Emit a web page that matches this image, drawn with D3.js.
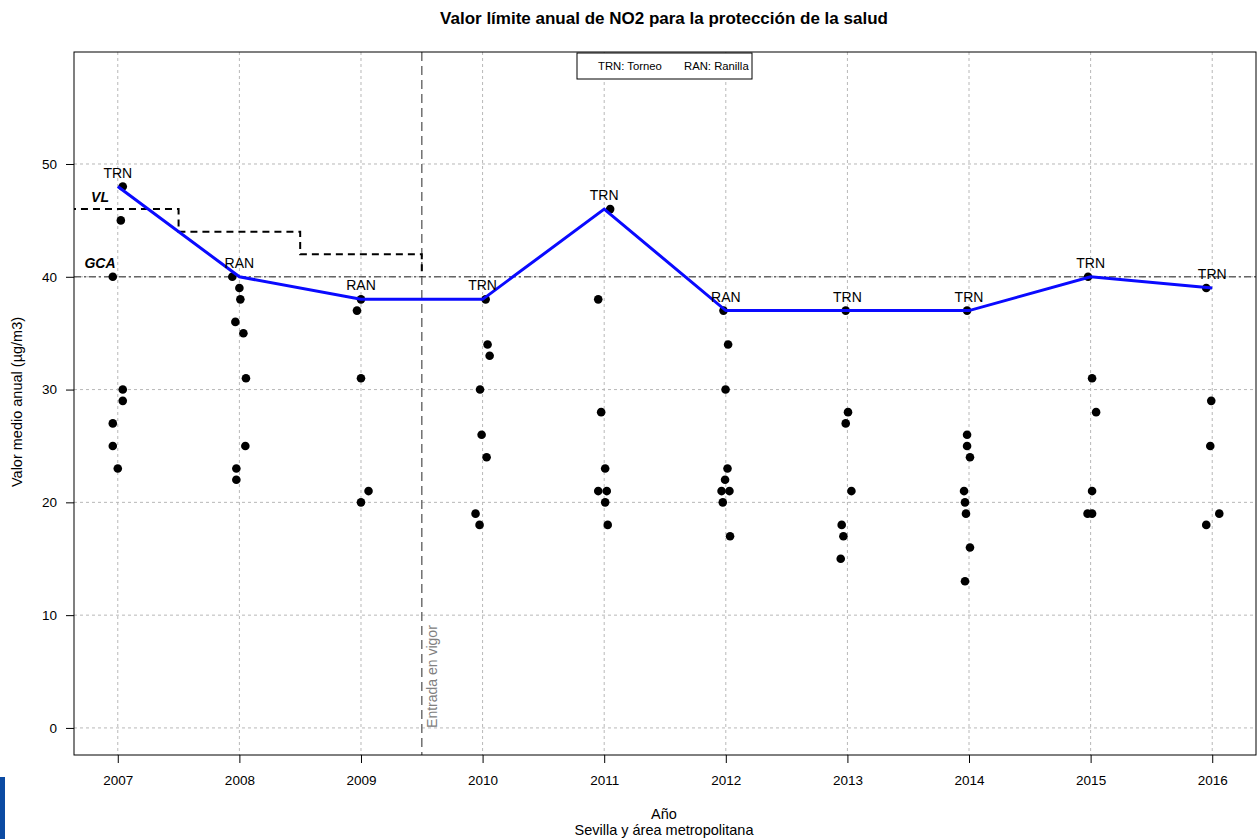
<!DOCTYPE html>
<html>
<head>
<meta charset="utf-8">
<script src="https://cdn.jsdelivr.net/npm/d3@7"></script>
<style>
  body { margin: 0; background: #fff; }
  svg { display: block; font-family: "Liberation Sans", Arial, sans-serif; }
</style>
</head>
<body>
<div id="chart"></div>
<script>
// Data
const years = [2007, 2008, 2009, 2010, 2011, 2012, 2013, 2014, 2015, 2016];

// annual mean per station, one array per year
const stationValues = [
  [48, 45, 40, 30, 29, 27, 25, 23],
  [40, 39, 38, 36, 35, 31, 25, 23, 22],
  [38, 37, 31, 21, 20],
  [38, 34, 33, 30, 26, 24, 19, 18],
  [46, 38, 28, 23, 21, 21, 20, 18],
  [37, 34, 30, 23, 22, 21, 21, 20, 17],
  [37, 28, 27, 21, 18, 17, 15],
  [37, 26, 25, 24, 21, 20, 19, 16, 13],
  [40, 31, 28, 21, 19, 19],
  [39, 29, 25, 19, 18]
];
// horizontal jitter (in years)
const stationJitter = [
  [0.041, 0.025, -0.041, 0.041, 0.041, -0.041, -0.041, 0.000],
  [-0.058, 0.000, 0.008, -0.033, 0.033, 0.054, 0.049, -0.025, -0.025],
  [0.000, -0.033, 0.000, 0.062, 0.000],
  [0.025, 0.041, 0.058, -0.021, -0.008, 0.033, -0.058, -0.025],
  [0.049, -0.049, -0.025, 0.008, -0.049, 0.021, 0.008, 0.029],
  [-0.019, 0.019, -0.002, 0.014, -0.006, -0.035, 0.030, -0.025, 0.035],
  [-0.014, 0.005, -0.014, 0.033, -0.047, -0.033, -0.055],
  [-0.016, -0.016, -0.016, 0.008, -0.041, -0.033, -0.025, 0.008, -0.033],
  [-0.021, 0.012, 0.045, 0.012, -0.025, 0.012],
  [-0.049, -0.008, -0.016, 0.058, -0.049]
];

const maxValues   = [48, 40, 38, 38, 46, 37, 37, 37, 40, 39];
const maxStations = ["TRN", "RAN", "RAN", "TRN", "TRN", "RAN", "TRN", "TRN", "TRN", "TRN"];

// limit value (VL) steps and target (GCA)
const vlYears  = [2006.5, 2007.5, 2008.5, 2009.5];
const vlValues = [46, 44, 42, 40];
const gcaValue = 40;
const entryYear = 2009.5;

const yTicks = [0, 10, 20, 30, 40, 50];
const legendItems = ["TRN: Torneo", "RAN: Ranilla"];

// Dimensions
const W = 1257, H = 839;
const plot = { left: 74, right: 1256, top: 52, bottom: 755 };

const svg = d3.select("#chart").append("svg")
  .attr("width", W).attr("height", H);

const x = d3.scaleLinear().domain([2006.64, 2016.36]).range([plot.left, plot.right]);
const y = d3.scaleLinear().domain([-2.4, 59.93]).range([plot.bottom, plot.top]);

svg.append("defs").append("clipPath").attr("id", "clip")
  .append("rect")
  .attr("x", plot.left).attr("y", plot.top)
  .attr("width", plot.right - plot.left).attr("height", plot.bottom - plot.top);

// Title
svg.append("text")
  .attr("x", 664).attr("y", 24)
  .attr("text-anchor", "middle")
  .style("font-size", "17px").style("font-weight", "bold")
  .text("Valor límite anual de NO2 para la protección de la salud");

// Grid
const grid = svg.append("g").attr("clip-path", "url(#clip)");
grid.selectAll(".gx").data(years).enter().append("line")
  .attr("x1", d => x(d)).attr("x2", d => x(d))
  .attr("y1", plot.top).attr("y2", plot.bottom)
  .attr("stroke", "#b8b8b8").attr("stroke-dasharray", "3,3");
grid.selectAll(".gy").data(yTicks).enter().append("line")
  .attr("x1", plot.left).attr("x2", plot.right)
  .attr("y1", d => y(d)).attr("y2", d => y(d))
  .attr("stroke", "#b8b8b8").attr("stroke-dasharray", "3,3");

// GCA line
const g = svg.append("g").attr("clip-path", "url(#clip)");
g.append("line")
  .attr("x1", plot.left).attr("x2", plot.right)
  .attr("y1", y(gcaValue)).attr("y2", y(gcaValue))
  .attr("stroke", "#666").attr("stroke-width", 1.5)
  .attr("stroke-dasharray", "7,3,2,3");

// entry-into-force vertical line
g.append("line")
  .attr("x1", x(entryYear)).attr("x2", x(entryYear))
  .attr("y1", plot.top).attr("y2", plot.bottom)
  .attr("stroke", "#707070").attr("stroke-width", 1.5)
  .attr("stroke-dasharray", "9,5");

// VL step line
const vlPts = [];
vlValues.forEach((v, i) => {
  if (i < vlValues.length - 1) {
    vlPts.push([vlYears[i], v], [vlYears[i + 1], v]);
  } else {
    vlPts.push([vlYears[i], v]);
  }
});
g.append("path")
  .attr("d", d3.line().x(d => x(d[0])).y(d => y(d[1]))(vlPts))
  .attr("fill", "none").attr("stroke", "#000")
  .attr("stroke-width", 2).attr("stroke-dasharray", "7,5");

// Station points
const pts = [];
stationValues.forEach((vals, i) => {
  vals.forEach((v, j) => pts.push({ yr: years[i] + stationJitter[i][j], v: v }));
});
g.selectAll(".pt").data(pts).enter().append("circle")
  .attr("cx", d => x(d.yr)).attr("cy", d => y(d.v))
  .attr("r", 4.3).attr("fill", "#000");

// Max line
const maxData = years.map((yr, i) => ({ yr, v: maxValues[i], s: maxStations[i] }));
g.append("path")
  .attr("d", d3.line().x(d => x(d.yr)).y(d => y(d.v))(maxData))
  .attr("fill", "none").attr("stroke", "#0a0aff").attr("stroke-width", 3);

svg.selectAll(".mlab").data(maxData).enter().append("text")
  .attr("x", d => x(d.yr)).attr("y", d => y(d.v) - 9)
  .attr("text-anchor", "middle")
  .style("font-size", "14px")
  .text(d => d.s);

// VL / GCA labels
svg.append("text").attr("x", 100).attr("y", y(46.6))
  .attr("text-anchor", "middle")
  .style("font-size", "14px").style("font-weight", "bold").style("font-style", "italic")
  .text("VL");
svg.append("text").attr("x", 100).attr("y", y(40.8))
  .attr("text-anchor", "middle")
  .style("font-size", "14px").style("font-weight", "bold").style("font-style", "italic")
  .text("GCA");

// Entrada en vigor
svg.append("text")
  .attr("transform", `translate(${x(entryYear) + 10},${y(0)}) rotate(-90)`)
  .attr("dominant-baseline", "central")
  .style("font-size", "14px").style("fill", "#808080")
  .text("Entrada en vigor");

// Box
svg.append("rect")
  .attr("x", plot.left).attr("y", plot.top)
  .attr("width", plot.right - plot.left).attr("height", plot.bottom - plot.top)
  .attr("fill", "none").attr("stroke", "#000").attr("stroke-width", 1);

// Axes
const xAxis = svg.append("g")
  .attr("transform", `translate(0,${plot.bottom})`)
  .call(d3.axisBottom(x).tickValues(years).tickFormat(d3.format("d")).tickSize(8).tickPadding(12));
const yAxis = svg.append("g")
  .attr("transform", `translate(${plot.left},0)`)
  .call(d3.axisLeft(y).tickValues(yTicks).tickSize(8).tickPadding(9));
[xAxis, yAxis].forEach(a => {
  a.select(".domain").remove();
  a.selectAll("text").style("font-size", "13.5px")
    .style("font-family", "'Liberation Sans', Arial, sans-serif").attr("fill", "#000");
  a.selectAll("line").attr("stroke", "#000");
});

// Axis titles
svg.append("text")
  .attr("transform", "translate(22,402) rotate(-90)")
  .attr("text-anchor", "middle")
  .style("font-size", "14.5px")
  .text("Valor medio anual (µg/m3)");
svg.append("text").attr("x", 664).attr("y", 819)
  .attr("text-anchor", "middle").style("font-size", "14.5px").text("Año");
svg.append("text").attr("x", 664).attr("y", 835)
  .attr("text-anchor", "middle").style("font-size", "14.5px").text("Sevilla y área metropolitana");

// Legend
const leg = svg.append("g");
leg.append("rect")
  .attr("x", 577).attr("y", 53).attr("width", 175).attr("height", 26)
  .attr("fill", "#fff").attr("stroke", "#000");
leg.selectAll("text").data(legendItems).enter().append("text")
  .attr("x", (d, i) => 598 + i * 86).attr("y", 70)
  .style("font-size", "11.3px")
  .text(d => d);

// side bar
svg.append("rect").attr("x", 0).attr("y", 777).attr("width", 5).attr("height", 62)
  .attr("fill", "#0b4aa2");
</script>
</body>
</html>
